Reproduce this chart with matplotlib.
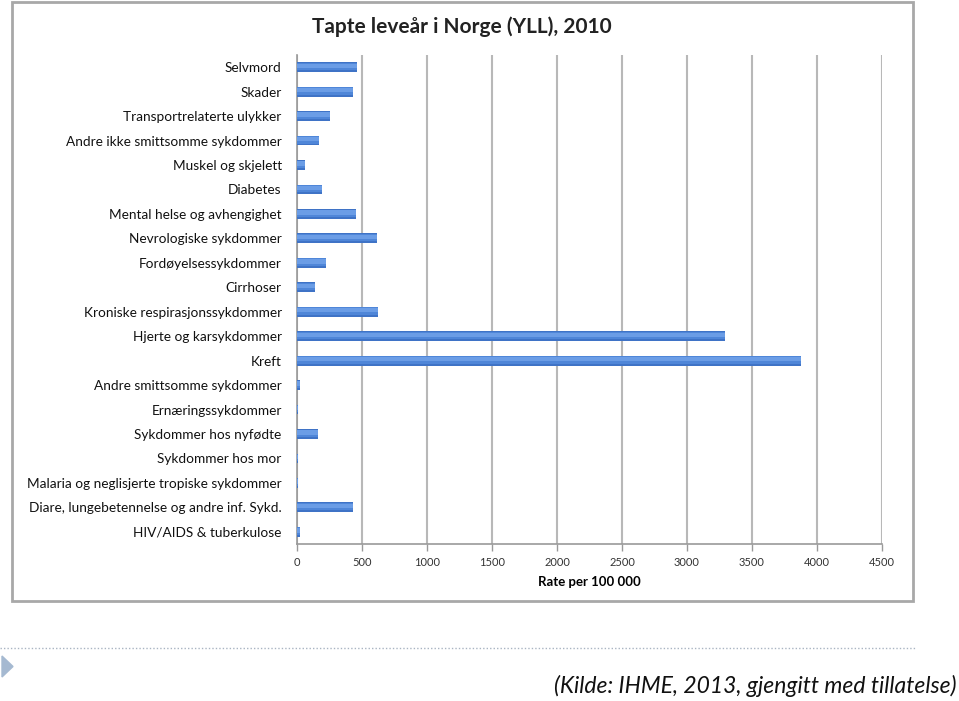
import matplotlib
matplotlib.use("Agg")
import matplotlib.pyplot as plt
from matplotlib.patches import Rectangle, Polygon
from matplotlib.lines import Line2D

plt.rcParams['font.family'] = ['Lato', 'DejaVu Sans']

# categories, bottom to top
categories = [
    "HIV/AIDS & tuberkulose",
    "Diare, lungebetennelse og andre inf. Sykd.",
    "Malaria og neglisjerte tropiske sykdommer",
    "Sykdommer hos mor",
    "Sykdommer hos nyfødte",
    "Ernæringssykdommer",
    "Andre smittsomme sykdommer",
    "Kreft",
    "Hjerte og karsykdommer",
    "Kroniske respirasjonssykdommer",
    "Cirrhoser",
    "Fordøyelsessykdommer",
    "Nevrologiske sykdommer",
    "Mental helse og avhengighet",
    "Diabetes",
    "Muskel og skjelett",
    "Andre ikke smittsomme sykdommer",
    "Transportrelaterte ulykker",
    "Skader",
    "Selvmord",
]
rates = [25, 433, 5, 5, 160, 8, 25, 3880, 3290, 623, 136, 223, 615, 454,
         192, 64, 172, 251, 428, 461]
xticks = [0, 500, 1000, 1500, 2000, 2500, 3000, 3500, 4000, 4500]

W, H = 959, 701
fig = plt.figure(figsize=(W / 100, H / 100), dpi=100)

# chart frame
fig.patches.append(Rectangle((12 / W, 1 - 601 / H), 901 / W, 599 / H,
                             transform=fig.transFigure, fill=False,
                             edgecolor='#a8a8a8', linewidth=2))

ax = fig.add_axes([297 / W, 1 - 544 / H, 585 / W, 489 / H])
y = list(range(len(categories)))
# layered bars to fake the excel gradient
ax.barh(y, rates, height=0.40, color='#3f73c6', zorder=3, linewidth=0)
ax.barh([i + 0.03 for i in y], rates, height=0.30, color='#4f86d8', zorder=4, linewidth=0)
ax.barh([i + 0.06 for i in y], rates, height=0.18, color='#6b9de6', zorder=5, linewidth=0)

ax.set_xlim(0, 4500)
ax.set_ylim(-0.5, len(categories) - 0.5)
ax.set_xticks(xticks)
ax.set_xticklabels([str(t) for t in xticks], fontsize=8, color='#333333')
ax.set_yticks(y)
ax.set_yticklabels(categories, fontsize=9.8, color='#111111')
ax.tick_params(axis='y', length=0, pad=11)
ax.tick_params(axis='x', length=5, color='#999999', width=1, pad=4)

ax.grid(axis='x', color='#b8b8b8', linewidth=1.5, zorder=0)
for s in ['top', 'right']:
    ax.spines[s].set_visible(False)
for s in ['left', 'bottom']:
    ax.spines[s].set_color('#999999')
    ax.spines[s].set_linewidth(1.2)

ax.set_xlabel("Rate per 100 000", fontsize=9.5, fontweight='bold', labelpad=6)

fig.text(462 / W, 1 - 27 / H, "Tapte leveår i Norge (YLL), 2010",
         ha='center', va='center', fontsize=15, fontweight='bold',
         color='#222222')

# footer
fig.add_artist(Line2D([0, 915 / W], [1 - 648 / H, 1 - 648 / H],
                      transform=fig.transFigure, color='#a9b4c2',
                      linestyle=(0, (1, 1.5)), linewidth=1))
fig.patches.append(Polygon([(2 / W, 1 - 656 / H), (2 / W, 1 - 677 / H),
                            (13 / W, 1 - 666.5 / H)], closed=True,
                           transform=fig.transFigure, color='#a5b9d1'))
fig.text(957 / W, 1 - 686 / H, "(Kilde: IHME, 2013, gjengitt med tillatelse)",
         ha='right', va='center', fontsize=16.5, style='italic', color='#111111')

fig.savefig("out.png", dpi=100)
